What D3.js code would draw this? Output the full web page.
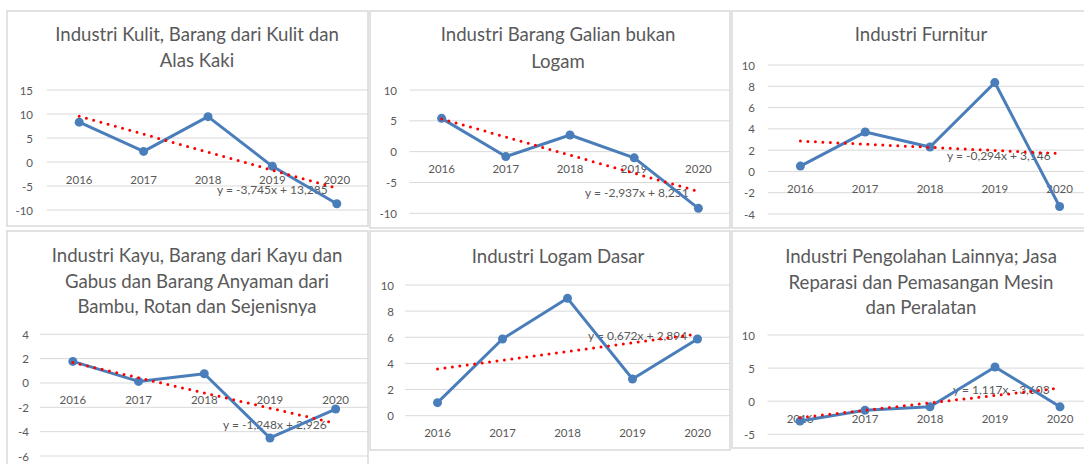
<!DOCTYPE html>
<html>
<head>
<meta charset="utf-8">
<script src="https://cdn.jsdelivr.net/npm/d3@7"></script>
<style>
  html, body { margin: 0; padding: 0; background: #fff; }
  svg { display: block; }
</style>
</head>
<body>
<div id="chart"></div>
<script>
// Data
const years = ["2016", "2017", "2018", "2019", "2020"];

const titles = [
    ["Industri Kulit, Barang dari Kulit dan", "Alas Kaki"],
    ["Industri Barang Galian bukan", "Logam"],
    ["Industri Furnitur"],
    ["Industri Kayu, Barang dari Kayu dan", "Gabus dan Barang Anyaman dari", "Bambu, Rotan dan Sejenisnya"],
    ["Industri Logam Dasar"],
    ["Industri Pengolahan Lainnya; Jasa", "Reparasi dan Pemasangan Mesin", "dan Peralatan"]
];

const kulit = [8.3, 2.2, 9.45, -0.9, -8.7];
const galian = [5.4, -0.8, 2.7, -1.0, -9.2];
const furnitur = [0.5, 3.7, 2.3, 8.35, -3.3];
const kayu = [1.77, 0.13, 0.76, -4.52, -2.14];
const logam = [1.0, 5.87, 8.98, 2.81, 5.87];
const lainnya = [-3.0, -1.36, -0.85, 5.17, -0.85];
const series = [kulit, galian, furnitur, kayu, logam, lainnya];

const slopes = [-3.745, -2.937, -0.294, -1.248, 0.672, 1.117];
const intercepts = [13.285, 8.251, 3.146, 2.926, 2.894, -3.603];
const equations = [
    "y = -3,745x + 13,285",
    "y = -2,937x + 8,251",
    "y = -0,294x + 3,146",
    "y = -1,248x + 2,926",
    "y = 0,672x + 2,894",
    "y = 1,117x - 3,603"
];

const yDomains = [[-10, 15], [-10, 10], [-4, 10], [-6, 4], [0, 10], [-5, 10]];
const yTickSteps = [5, 5, 2, 2, 2, 5];

// Layout of each panel (pixels)
const layout = [
    { box: [7, 11, 361, 215], xr: [47, 369], yr: [210, 90], tickX: 33, titleX: 197, titleY: [34, 60], eq: [217, 189] },
    { box: [370, 11, 360, 217], xr: [409.5, 730.5], yr: [213.3, 90], tickX: 397, titleX: 558, titleY: [34, 61], eq: [585, 192.7] },
    { box: [732, 11, 360, 217], xr: [768, 1092], yr: [214, 65], tickX: 755, titleX: 921, titleY: [34], eq: [947, 155] },
    { box: [7, 231, 361, 240], xr: [40, 368.5], yr: [456, 334.3], tickX: 29, titleX: 197, titleY: [255, 280.7, 306], eq: [223, 424.3] },
    { box: [370, 231, 360, 219], xr: [405, 730], yr: [415.7, 285], tickX: 394, titleX: 558, titleY: [255.7], eq: [588, 335] },
    { box: [732, 231, 360, 217], xr: [767.5, 1092.5], yr: [434.3, 335], tickX: 755, titleX: 921, titleY: [256, 281.7, 306.7], eq: [953, 389] }
];

const width = 1084, height = 464;
const font = "Lato, 'Open Sans', sans-serif";
const textColor = "#595959";
const lineColor = "#4a7ebb";

const svg = d3.select("#chart").append("svg")
    .attr("width", width)
    .attr("height", height);

svg.append("rect").attr("width", width).attr("height", height).attr("fill", "#fff");

layout.forEach((L, i) => {
    const [bx, by, bw, bh] = L.box;

    svg.append("clipPath").attr("id", `clip${i}`)
        .append("rect").attr("x", bx).attr("y", by).attr("width", bw).attr("height", bh);

    const g = svg.append("g").attr("clip-path", `url(#clip${i})`);

    g.append("rect")
        .attr("x", bx).attr("y", by).attr("width", bw).attr("height", bh)
        .attr("fill", "#fff");

    const x = d3.scalePoint().domain(years).range(L.xr).padding(0.5);
    const y = d3.scaleLinear().domain(yDomains[i]).range(L.yr);
    const ticks = d3.range(yDomains[i][0], yDomains[i][1] + yTickSteps[i] / 2, yTickSteps[i]);

    // gridlines
    g.append("g").selectAll("line")
        .data(ticks)
        .join("line")
        .attr("x1", L.xr[0]).attr("x2", L.xr[1])
        .attr("y1", d => y(d)).attr("y2", d => y(d))
        .attr("stroke", "#d9d9d9")
        .attr("stroke-width", 1);

    // y tick labels
    g.append("g").selectAll("text")
        .data(ticks)
        .join("text")
        .attr("x", L.tickX)
        .attr("y", d => y(d))
        .attr("text-anchor", "end")
        .attr("dominant-baseline", "central")
        .attr("font-family", font)
        .attr("font-size", "11.5px")
        .attr("fill", textColor)
        .text(d => d);

    // category labels (next to the zero line)
    const labelY = y(Math.max(0, yDomains[i][0])) + 17;
    g.append("g").selectAll("text")
        .data(years)
        .join("text")
        .attr("x", d => x(d))
        .attr("y", labelY)
        .attr("text-anchor", "middle")
        .attr("dominant-baseline", "central")
        .attr("font-family", font)
        .attr("font-size", "11.5px")
        .attr("fill", textColor)
        .text(d => d);

    // title
    g.append("g").selectAll("text")
        .data(titles[i])
        .join("text")
        .attr("x", L.titleX)
        .attr("y", (d, k) => L.titleY[k])
        .attr("text-anchor", "middle")
        .attr("dominant-baseline", "central")
        .attr("font-family", font)
        .attr("font-size", "18.6px")
        .attr("fill", textColor)
        .text(d => d);

    // trend equation
    g.append("text")
        .attr("x", L.eq[0])
        .attr("y", L.eq[1])
        .attr("dominant-baseline", "central")
        .attr("font-family", font)
        .attr("font-size", "12px")
        .attr("fill", textColor)
        .text(equations[i]);

    // data line
    const pts = years.map((yr, k) => [x(yr), y(series[i][k])]);
    g.append("path")
        .attr("d", d3.line()(pts))
        .attr("fill", "none")
        .attr("stroke", lineColor)
        .attr("stroke-width", 3)
        .attr("stroke-linejoin", "round");

    g.append("g").selectAll("circle")
        .data(pts)
        .join("circle")
        .attr("cx", d => d[0]).attr("cy", d => d[1])
        .attr("r", 4.5)
        .attr("fill", lineColor);

    // linear trend line
    const tx = [1, years.length];
    g.append("line")
        .attr("x1", x(years[0])).attr("y1", y(slopes[i] * tx[0] + intercepts[i]))
        .attr("x2", x(years[years.length - 1])).attr("y2", y(slopes[i] * tx[1] + intercepts[i]))
        .attr("stroke", "#ff0000")
        .attr("stroke-width", 3)
        .attr("stroke-linecap", "round")
        .attr("stroke-dasharray", "0 7.5");

    // panel border
    svg.append("rect")
        .attr("x", bx).attr("y", by).attr("width", bw).attr("height", bh)
        .attr("fill", "none")
        .attr("stroke", "#d9d9d9")
        .attr("stroke-width", 1.5);
});
</script>
</body>
</html>
